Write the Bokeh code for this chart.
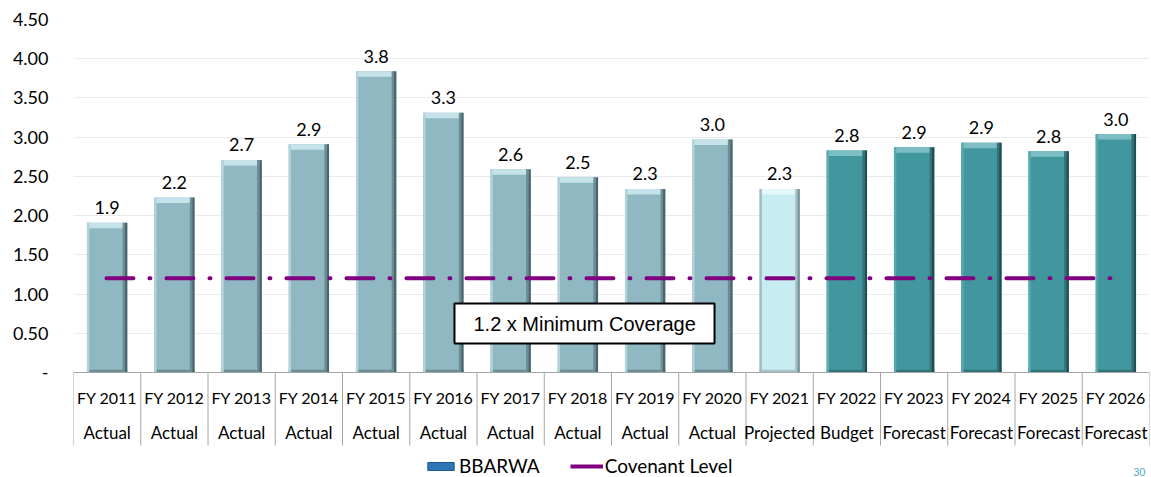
import math
from bokeh.plotting import figure
from bokeh.models import (ColumnDataSource, Range1d, FixedTicker, Legend, LegendItem,
                          BoxAnnotation, Label, NumeralTickFormatter)
from bokeh.transform import dodge
from bokeh.core.properties import value
from bokeh.embed import file_html
from bokeh.resources import INLINE

# ---------------- data ----------------
categories = ["FY 2011", "FY 2012", "FY 2013", "FY 2014", "FY 2015", "FY 2016",
              "FY 2017", "FY 2018", "FY 2019", "FY 2020", "FY 2021", "FY 2022",
              "FY 2023", "FY 2024", "FY 2025", "FY 2026"]
status = ["Actual", "Actual", "Actual", "Actual", "Actual", "Actual", "Actual",
          "Actual", "Actual", "Actual", "Projected", "Budget", "Forecast",
          "Forecast", "Forecast", "Forecast"]
bbarwa = [1.91, 2.23, 2.71, 2.91, 3.84, 3.31, 2.59, 2.49, 2.34, 2.97,
          2.34, 2.83, 2.87, 2.93, 2.82, 3.04]
covenant_level = 1.2
y_ticks = [0, 0.5, 1.0, 1.5, 2.0, 2.5, 3.0, 3.5, 4.0, 4.5]
series_names = ["BBARWA", "Covenant Level"]
annotation_text = "1.2 x Minimum Coverage"
page_number = "30"

# ---------------- layout / style ----------------
W, H = 1151, 477
TOP = 19
LEFT = 73
RIGHT_BORDER = 2
PX_PER_UNIT = (372 - TOP) / 4.5
Y_MAX = 4.5
Y_MIN = Y_MAX - (H - TOP) / PX_PER_UNIT
FONT = "Lato"

styles = {
    "Actual":    dict(main="#8fb8c2", cap="#c6e3ea", left="#b3d2d9", right="#4b666b", right2="#6d8d94", bot="#6d8d94"),
    "Projected": dict(main="#c7ecf2", cap="#e4f7fa", left="#9fbcc0", right="#768f93", right2="#a5c3c7", bot="#a5c3c7"),
    "Budget":    dict(main="#42979f", cap="#7bbfc5", left="#5aa9b0", right="#214e52", right2="#317479", bot="#317479"),
    "Forecast":  dict(main="#42979f", cap="#7bbfc5", left="#5aa9b0", right="#214e52", right2="#317479", bot="#317479"),
}

n = len(categories)
xs = [i + 0.5 for i in range(n)]
src = ColumnDataSource(dict(
    x=xs, top=bbarwa,
    cap_bottom=[v - 0.07 for v in bbarwa],
    label=[f"{v:.1f}" for v in bbarwa],
    main=[styles[s]["main"] for s in status],
    cap=[styles[s]["cap"] for s in status],
    left=[styles[s]["left"] for s in status],
    right=[styles[s]["right"] for s in status],
    right2=[styles[s]["right2"] for s in status],
    bot=[styles[s]["bot"] for s in status],
    cat=categories, status=status,
))

p = figure(width=W, height=H, output_backend="svg", toolbar_location=None,
           x_range=Range1d(0, n), y_range=Range1d(Y_MIN, Y_MAX),
           min_border_left=LEFT, min_border_right=RIGHT_BORDER, min_border_top=TOP,
           min_border_bottom=0, x_axis_location=None)
p.outline_line_color = None
p.background_fill_color = "white"
p.border_fill_color = "white"
p.xgrid.visible = False

# y axis
p.yaxis.ticker = FixedTicker(ticks=y_ticks)
p.yaxis.formatter = NumeralTickFormatter(format="0.00")
p.yaxis.major_label_overrides = {0: "-"}
p.yaxis.axis_line_color = None
p.yaxis.major_tick_line_color = None
p.yaxis.minor_tick_line_color = None
p.yaxis.major_tick_out = 0
p.yaxis.major_tick_in = 0
p.yaxis.major_label_standoff = 25
p.yaxis.major_label_text_font = FONT
p.yaxis.major_label_text_font_size = "18px"
p.yaxis.major_label_text_color = "#000000"
p.ygrid.ticker = FixedTicker(ticks=y_ticks[1:])
p.ygrid.grid_line_color = "#ebebeb"
p.ygrid.grid_line_width = 1

BW = 0.6
# bars with bevel
p.vbar(x="x", width=BW, top="top", bottom=0, source=src, fill_color="main", line_color=None)
p.vbar(x="x", width=BW, top=0.035, bottom=0, source=src, fill_color="bot", line_color=None)
p.vbar(x="x", width=BW, top="top", bottom="cap_bottom", source=src, fill_color="cap", line_color=None)
p.vbar(x=dodge("x", -BW / 2 + 0.0175, range=p.x_range), width=0.035, top="top", bottom=0,
       source=src, fill_color="left", line_color=None)
p.vbar(x=dodge("x", BW / 2 - 0.0525, range=p.x_range), width=0.035, top="top", bottom=0,
       source=src, fill_color="right2", line_color=None)
p.vbar(x=dodge("x", BW / 2 - 0.0175, range=p.x_range), width=0.035, top="top", bottom=0,
       source=src, fill_color="right", line_color=None)

# value labels
p.text(x="x", y="top", text="label", source=src, text_align="center",
       text_baseline="middle", y_offset=-15, text_font=value(FONT),
       text_font_size="18px", text_color="#000000")

# covenant line
cov_src = ColumnDataSource(dict(x=[xs[0] - 0.01, xs[-1] + 0.03], y=[covenant_level, covenant_level]))
p.line(x="x", y="y", source=cov_src, line_color="#800080", line_width=4,
       line_dash="27 16 1 16", line_cap="round")

# category table
p.segment(x0=0, y0=0, x1=n, y1=0, line_color="#a6a6a6", line_width=1)
bounds = list(range(n + 1))
p.segment(x0=bounds, y0=[0] * len(bounds), x1=bounds, y1=[-0.931] * len(bounds),
          line_color="#a6a6a6", line_width=1)
p.text(x="x", y=-0.319, text="cat", source=src, text_align="center", text_baseline="middle",
       text_font=value(FONT), text_font_size="16px", text_color="#000000")
p.text(x="x", y=-0.765, text="status", source=src, text_align="center", text_baseline="middle",
       text_font=value(FONT), text_font_size="17px", text_color="#000000")

# annotation box
p.add_layout(BoxAnnotation(left=5.665, right=9.532, bottom=0.369, top=0.879,
                           fill_color="white", fill_alpha=1.0, line_color="#000000",
                           line_alpha=1.0, line_width=2, level="annotation"))
p.add_layout(Label(x=7.6, y=0.624, text=annotation_text, text_align="center",
                   text_baseline="middle", text_font="Liberation Sans",
                   text_font_size="20px", text_color="#000000"))

# page number
p.text(x=[15.94], y=[Y_MIN + 0.02], text=[page_number], text_align="right",
       text_baseline="bottom", text_font=value("Liberation Sans"),
       text_font_size="11px", text_color="#4bacc6")

# legend (dummy renderers for swatches)
nan = float("nan")
sw = p.vbar(x=[nan], top=[nan], width=0.5, fill_color="#2e75b6", line_color="#1d5a93", line_width=1)
ln = p.line(x=[nan, nan], y=[nan, nan], line_color="#800080", line_width=4)
legend = Legend(items=[LegendItem(label=series_names[0], renderers=[sw]),
                       LegendItem(label=series_names[1], renderers=[ln])],
                orientation="horizontal", location=(351, 0),
                glyph_width=33, glyph_height=10, label_standoff=2, spacing=30,
                padding=0, margin=0, border_line_color=None, background_fill_alpha=0,
                label_text_font=FONT, label_text_font_size="19px", label_text_color="#000000")
p.add_layout(legend)

open("out.html", "w").write(file_html(p, INLINE))
